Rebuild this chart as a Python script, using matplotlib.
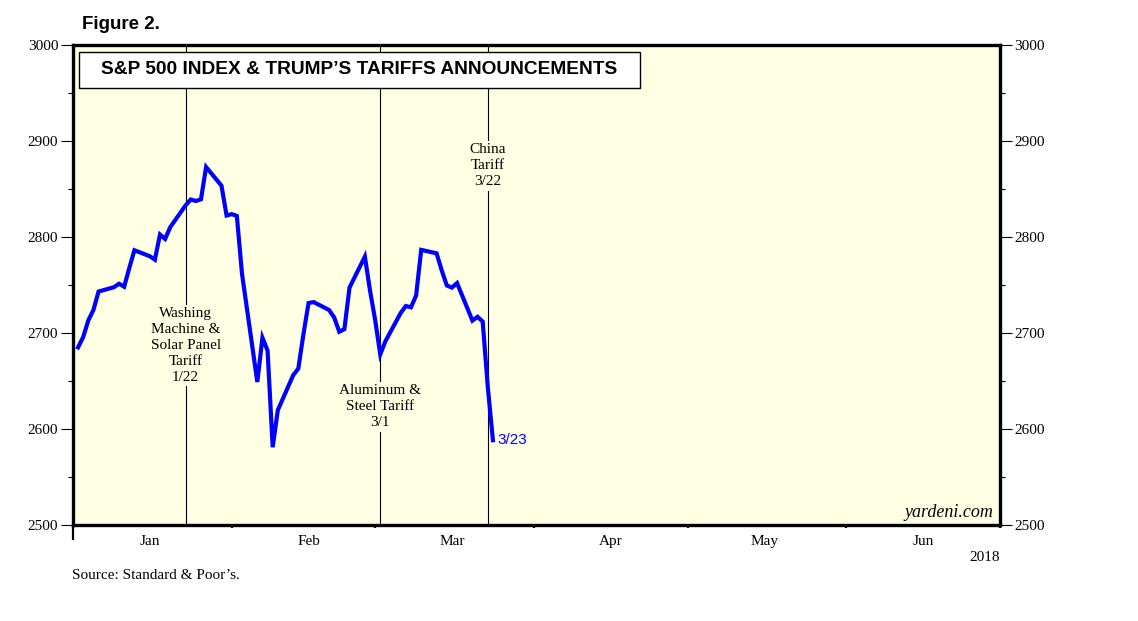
import matplotlib
matplotlib.use('Agg')
import matplotlib.pyplot as plt
import matplotlib.dates as mdates
from matplotlib.patches import Rectangle
from matplotlib.ticker import MultipleLocator, NullFormatter
import pandas as pd

# S&P 500 daily closes (holiday rows carry the value drawn in the original)
dates = ['2018-01-01', '2018-01-02', '2018-01-03', '2018-01-04', '2018-01-05',
         '2018-01-08', '2018-01-09', '2018-01-10', '2018-01-11', '2018-01-12',
         '2018-01-15', '2018-01-16', '2018-01-17', '2018-01-18', '2018-01-19',
         '2018-01-22', '2018-01-23', '2018-01-24', '2018-01-25', '2018-01-26',
         '2018-01-29', '2018-01-30', '2018-01-31', '2018-02-01', '2018-02-02',
         '2018-02-05', '2018-02-06', '2018-02-07', '2018-02-08', '2018-02-09',
         '2018-02-12', '2018-02-13', '2018-02-14', '2018-02-15', '2018-02-16',
         '2018-02-19', '2018-02-20', '2018-02-21', '2018-02-22', '2018-02-23',
         '2018-02-26', '2018-02-27', '2018-02-28', '2018-03-01', '2018-03-02',
         '2018-03-05', '2018-03-06', '2018-03-07', '2018-03-08', '2018-03-09',
         '2018-03-12', '2018-03-13', '2018-03-14', '2018-03-15', '2018-03-16',
         '2018-03-19', '2018-03-20', '2018-03-21', '2018-03-22', '2018-03-23']
close = [2685.0, 2695.8, 2713.1, 2724.0, 2743.2,
         2747.7, 2751.3, 2748.2, 2767.6, 2786.2,
         2780.0, 2776.4, 2802.6, 2798.0, 2810.3,
         2833.0, 2839.1, 2837.5, 2839.3, 2872.9,
         2853.5, 2822.4, 2823.8, 2822.0, 2762.1,
         2648.9, 2695.1, 2681.7, 2581.0, 2619.6,
         2656.0, 2662.9, 2698.6, 2731.2, 2732.2,
         2724.0, 2716.3, 2701.3, 2704.0, 2747.3,
         2779.6, 2744.3, 2713.8, 2677.7, 2691.3,
         2720.9, 2728.1, 2726.8, 2739.0, 2786.6,
         2783.0, 2765.3, 2749.5, 2747.3, 2752.0,
         2712.9, 2716.9, 2711.9, 2643.7, 2588.3]

# tariff announcements
event_dates = ['2018-01-22', '2018-03-01', '2018-03-22']
event_labels = ['Washing\nMachine &\nSolar Panel\nTariff\n1/22',
                'Aluminum &\nSteel Tariff\n3/1',
                'China\nTariff\n3/22']
event_label_y = [2687, 2623, 2874]

month_names = ['Jan', 'Feb', 'Mar', 'Apr', 'May', 'Jun']

plt.rcParams['font.family'] = 'serif'
plt.rcParams['font.serif'] = ['Liberation Serif', 'DejaVu Serif']

bg = '#ffffe4'
shift = pd.Timedelta(days=1)  # closes are drawn at the end of their day
x = pd.to_datetime(dates) + shift

fig = plt.figure(figsize=(11.38, 6.21), dpi=100)
ax = fig.add_axes([0.0641, 0.1546, 0.8146, 0.7729])
ax.set_facecolor(bg)

ax.plot(x, close, color='#0000ff', lw=3.0, zorder=5, solid_joinstyle='miter')
ax.annotate('3/23', xy=(x[-1], close[-1]), xytext=(3, 0), textcoords='offset points',
            va='center', ha='left', color='#0000ff', fontsize=11, family='Liberation Sans')

for d, lab, ly in zip(event_dates, event_labels, event_label_y):
    xd = pd.Timestamp(d) + shift
    ax.axvline(xd, color='black', lw=0.8, zorder=2)
    ax.text(xd, ly, lab, ha='center', va='center', fontsize=11, linespacing=1.3,
            zorder=3, bbox=dict(facecolor=bg, edgecolor='none', pad=1.5))

# title box
ax.add_patch(Rectangle((0.0065, 0.910), 0.605, 0.075, transform=ax.transAxes,
                       facecolor='white', edgecolor='black', lw=1.0, zorder=4))
ax.text(0.3085, 0.948, 'S&P 500 INDEX & TRUMP\u2019S TARIFFS ANNOUNCEMENTS',
        transform=ax.transAxes, ha='center', va='center', fontsize=13.8,
        fontweight='bold', family='Liberation Sans', zorder=6)

ax.text(0.9925, 0.008, 'yardeni.com', transform=ax.transAxes, ha='right', va='bottom',
        fontsize=13, style='italic', zorder=6)

# axes
ax.set_ylim(2500, 3000)
ax.set_xlim(pd.Timestamp('2018-01-01'), pd.Timestamp('2018-07-01'))
ax.yaxis.set_major_locator(MultipleLocator(100))
ax.yaxis.set_minor_locator(MultipleLocator(50))
ax.tick_params(axis='y', which='major', direction='out', length=8.5, width=0.8,
               labelsize=11, pad=2, left=True, right=True, labelleft=True, labelright=True)
ax.tick_params(axis='y', which='minor', direction='out', length=3.5, width=0.8,
               left=True, right=True)

ax.xaxis.set_major_locator(mdates.MonthLocator())
ax.xaxis.set_major_formatter(NullFormatter())
ax.xaxis.set_minor_locator(mdates.MonthLocator(bymonthday=16))
ax.xaxis.set_minor_formatter(mdates.DateFormatter('%b'))
ax.tick_params(axis='x', which='major', direction='out', length=2.5, width=1.6)
ax.tick_params(axis='x', which='minor', length=0, labelsize=11, pad=7)

# long tick marking the start of the year
sec = ax.secondary_xaxis('bottom')
sec.set_xticks([pd.Timestamp('2018-01-01')])
sec.set_xticklabels([''])
sec.tick_params(length=11, width=1.6, direction='out')
sec.spines['bottom'].set_visible(False)

for s in ax.spines.values():
    s.set_linewidth(2.4)

fig.text(0.072, 0.96, 'Figure 2.', ha='left', va='center', fontsize=13.5,
         fontweight='bold', family='Liberation Sans')
fig.text(0.8787, 0.103, '2018', ha='right', va='center', fontsize=11)
fig.text(0.0633, 0.074, 'Source: Standard & Poor\u2019s.', ha='left', va='center', fontsize=11)

fig.savefig('out.png', dpi=100, facecolor='white')
